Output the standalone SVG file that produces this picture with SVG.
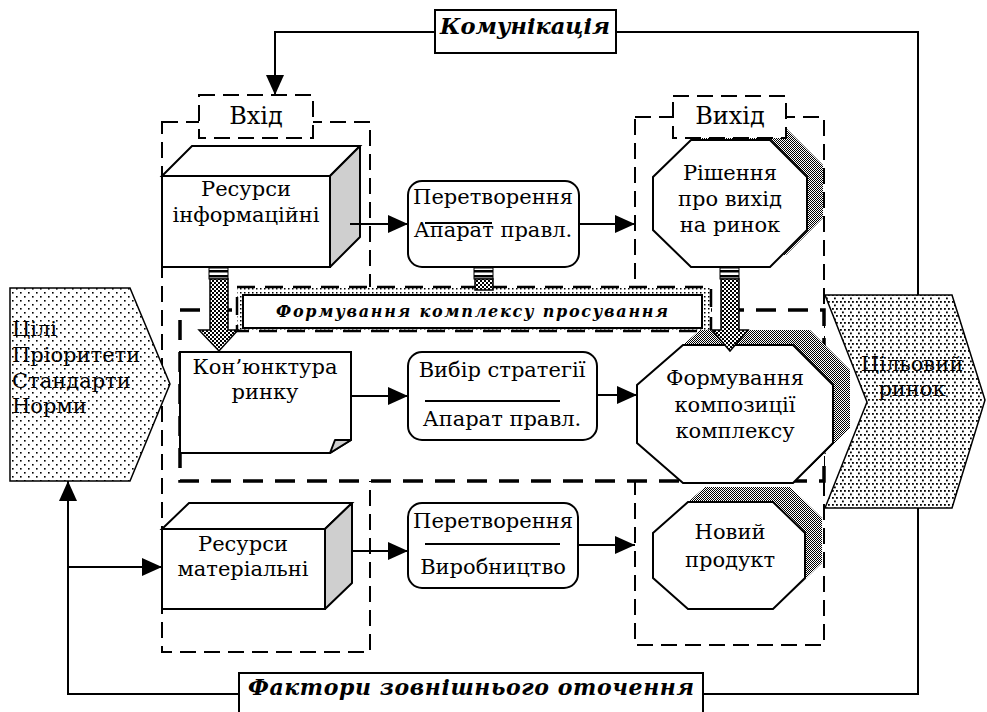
<svg xmlns="http://www.w3.org/2000/svg" width="987" height="712" viewBox="0 0 987 712">
<style>
.t{font-family:"DejaVu Serif","Liberation Serif",serif;font-size:21px;fill:#000;text-anchor:middle}
.tl{text-anchor:start}
.big{font-size:24px}
.bi{font-family:"DejaVu Serif","Liberation Serif",serif;font-weight:bold;font-style:italic;fill:#000;text-anchor:middle}
.ln{stroke:#000;stroke-width:2;fill:none}
.box{fill:#fff;stroke:#000;stroke-width:2}
.side{fill:#cfcfcf;stroke:#000;stroke-width:2;stroke-linejoin:round}
.dash{fill:none;stroke:#000;stroke-width:2;stroke-dasharray:16 8}
.dashbox{fill:#fff;stroke:#000;stroke-width:2;stroke-dasharray:16 8}
.shadow{fill:url(#checker);stroke:none}
.harrow{fill:url(#checker2);stroke:#000;stroke-width:1.5}
</style>
<defs>
<pattern id="checker" width="2" height="2" patternUnits="userSpaceOnUse"><rect width="2" height="2" fill="#fff"/><rect width="1" height="1" fill="#000"/><rect x="1" y="1" width="1" height="1" fill="#000"/></pattern>
<pattern id="checker2" width="4" height="4" patternUnits="userSpaceOnUse"><rect width="4" height="4" fill="#fff"/><rect width="2" height="2" fill="#000"/><rect x="2" y="2" width="2" height="2" fill="#000"/></pattern>
<pattern id="stripes" width="4" height="5" patternUnits="userSpaceOnUse"><rect width="4" height="5" fill="#fff"/><rect width="4" height="2.5" fill="#000"/></pattern>
<pattern id="dots1" width="8" height="8" patternUnits="userSpaceOnUse"><rect width="8" height="8" fill="#fff"/><rect x="0" y="0" width="1.6" height="1.6" fill="#000"/><rect x="4" y="4" width="1.6" height="1.6" fill="#000"/></pattern>
<pattern id="dots2" width="8" height="7" patternUnits="userSpaceOnUse"><rect width="8" height="7" fill="#fff"/><rect x="0" y="0" width="1.8" height="1.8" fill="#000"/><rect x="4" y="0" width="1.8" height="1.8" fill="#000"/><rect x="2" y="3.5" width="1.8" height="1.8" fill="#000"/></pattern>
<pattern id="dotline" width="4" height="4" patternUnits="userSpaceOnUse"><rect width="4" height="4" fill="#fff"/><rect width="1.5" height="1.5" fill="#000"/></pattern>
<marker id="ah" viewBox="0 0 20 18" refX="20" refY="9" markerWidth="20" markerHeight="18" markerUnits="userSpaceOnUse" orient="auto"><path d="M0,0 L20,9 L0,18 Z" fill="#000"/></marker>
</defs>

<!-- containers -->
<g id="input-container">
<rect class="dash" x="162" y="122" width="208" height="530"/>
<rect class="dashbox" x="199" y="95" width="114" height="43"/>
<text class="t big" x="256" y="124">Вхід</text>
</g>
<g id="output-container">
<rect class="dash" x="635" y="117" width="189" height="528"/>
</g>

<!-- octagon shadows (top/bottom) -->
<polygon class="shadow" points="707,128 786,128 823,165 823,218 786,255 707,255 669,218 669,165"/>
<polygon class="shadow" points="705,487 790,487 822,518 822,563 790,594 705,594 670,563 670,518"/>

<g id="output-label">
<rect class="dashbox" x="673" y="96" width="113" height="42"/>
<text class="t big" x="730" y="124">Вихід</text>
</g>

<g id="promo-container">
<rect x="180" y="310" width="644" height="171" fill="#fff" stroke="#000" stroke-width="3.5" stroke-dasharray="20 12"/>
</g>

<g id="promo-banner">
<rect x="237" y="287" width="474" height="44" fill="url(#dotline)" stroke="#000" stroke-width="2.5" stroke-dasharray="18 10"/>
<rect x="243" y="295" width="459" height="33" fill="#fff" stroke="#000" stroke-width="2"/>
<text class="bi" x="472" y="317" font-size="16" textLength="392" lengthAdjust="spacing">Формування комплексу просування</text>
</g>

<!-- nodes -->
<g id="res-info">
<polygon class="box" points="162,176 192,146 360,146 330,176"/>
<polygon class="side" points="330,176 360,146 360,237 330,267"/>
<rect class="box" x="162" y="176" width="168" height="91"/>
<text class="t" x="246" y="196">Ресурси</text>
<text class="t" x="246" y="222">інформаційні</text>
</g>

<g id="transform-mgmt">
<rect class="box" x="408" y="181" width="171" height="86" rx="14"/>
<line class="ln" x1="425" y1="223" x2="492" y2="223"/>
<text class="t" x="493" y="204">Перетворення</text>
<text class="t" x="493" y="237">Апарат правл.</text>
</g>

<g id="decision">
<polygon class="box" points="691,140 770,140 807,177 807,230 770,267 691,267 653,230 653,177"/>
<text class="t" x="730" y="180">Рішення</text>
<text class="t" x="730" y="206">про вихід</text>
<text class="t" x="730" y="232">на ринок</text>
</g>

<g id="conjuncture">
<path class="box" d="M180,352 H351 V440 L330,453 H180 Z"/>
<path class="side" d="M351,440 L330,453 L335,440 Z"/>
<text class="t" x="265" y="374">Кон’юнктура</text>
<text class="t" x="265" y="399">ринку</text>
</g>

<g id="strategy">
<rect class="box" x="408" y="352" width="189" height="88" rx="14"/>
<line class="ln" x1="425" y1="401" x2="560" y2="401"/>
<text class="t" x="502" y="377">Вибір стратегії</text>
<text class="t" x="502" y="426">Апарат правл.</text>
</g>

<g id="composition">
<polygon class="shadow" points="700,330 810,330 850,370 850,428 810,468 700,468 654,428 654,370"/>
<polygon class="box" points="683,345 793,345 833,385 833,443 793,483 683,483 637,443 637,385"/>
<text class="t" x="735" y="385">Формування</text>
<text class="t" x="735" y="412">композиції</text>
<text class="t" x="735" y="438">комплексу</text>
</g>

<g id="res-material">
<polygon class="box" points="162,529 189,503 352,503 325,529"/>
<polygon class="side" points="325,529 352,503 352,583 325,609"/>
<rect class="box" x="162" y="529" width="163" height="80"/>
<text class="t" x="243" y="551">Ресурси</text>
<text class="t" x="243" y="576">матеріальні</text>
</g>

<g id="transform-prod">
<rect class="box" x="408" y="503" width="170" height="85" rx="14"/>
<line class="ln" x1="425" y1="544" x2="560" y2="544"/>
<text class="t" x="493" y="528">Перетворення</text>
<text class="t" x="493" y="574">Виробництво</text>
</g>

<g id="new-product">
<polygon class="box" points="688,502 773,502 805,533 805,578 773,609 688,609 653,578 653,533"/>
<text class="t" x="730" y="539">Новий</text>
<text class="t" x="730" y="567">продукт</text>
</g>

<g id="goals">
<polygon points="10,288 130,288 170,384 130,481 10,481" fill="url(#dots1)" stroke="#000" stroke-width="1.5"/>
<text class="t tl" x="12" y="336">Цілі</text>
<text class="t tl" x="12" y="362">Пріоритети</text>
<text class="t tl" x="12" y="388">Стандарти</text>
<text class="t tl" x="12" y="413">Норми</text>
</g>

<g id="target-market">
<polygon points="825,295 952,295 985,400 952,508 825,508 867,402" fill="url(#dots2)" stroke="#000" stroke-width="1.5"/>
<text class="t" x="912" y="371">Цільовий</text>
<text class="t" x="912" y="396">ринок</text>
</g>

<g id="communication">
<rect x="435" y="10" width="181" height="43" fill="#fff" stroke="#000" stroke-width="2"/>
<text class="bi" x="525" y="34" font-size="22" textLength="170" lengthAdjust="spacingAndGlyphs">Комунікація</text>
</g>

<g id="env-factors">
<rect x="239" y="673" width="464" height="45" fill="#fff" stroke="#000" stroke-width="2"/>
<text class="bi" x="471" y="695" font-size="22" textLength="446" lengthAdjust="spacing">Фактори зовнішнього оточення</text>
</g>

<!-- hatched flow arrows -->
<g id="hatched-arrows">
<rect x="209" y="268" width="19" height="11" fill="url(#stripes)" stroke="#000" stroke-width="1"/>
<path class="harrow" d="M210,279 H228 V330 H238 L219,351 L199,330 H210 Z"/>
<rect x="474" y="268" width="19" height="11" fill="url(#stripes)" stroke="#000" stroke-width="1"/>
<path class="harrow" d="M475,279 H493 V290 H475 Z"/>
<rect x="720" y="268" width="19" height="11" fill="url(#stripes)" stroke="#000" stroke-width="1"/>
<path class="harrow" d="M721,279 H739 V330 H748 L730,351 L712,330 H721 Z"/>
</g>

<!-- connectors -->
<g id="connectors" fill="none" stroke="#000" stroke-width="2">
<polyline points="435,32 275,32 275,95" marker-end="url(#ah)"/>
<polyline points="616,32 918,32 918,295"/>
<line x1="350" y1="224" x2="408" y2="224" marker-end="url(#ah)"/>
<line x1="579" y1="224" x2="635" y2="224" marker-end="url(#ah)"/>
<line x1="351" y1="396" x2="408" y2="396" marker-end="url(#ah)"/>
<line x1="597" y1="395" x2="637" y2="395" marker-end="url(#ah)"/>
<line x1="352" y1="551" x2="408" y2="551" marker-end="url(#ah)"/>
<line x1="578" y1="545" x2="635" y2="545" marker-end="url(#ah)"/>
<line x1="68" y1="567" x2="162" y2="567" marker-end="url(#ah)"/>
<polyline points="239,694 68,694 68,481" marker-end="url(#ah)"/>
<polyline points="703,694 918,694 918,508"/>
</g>
</svg>
